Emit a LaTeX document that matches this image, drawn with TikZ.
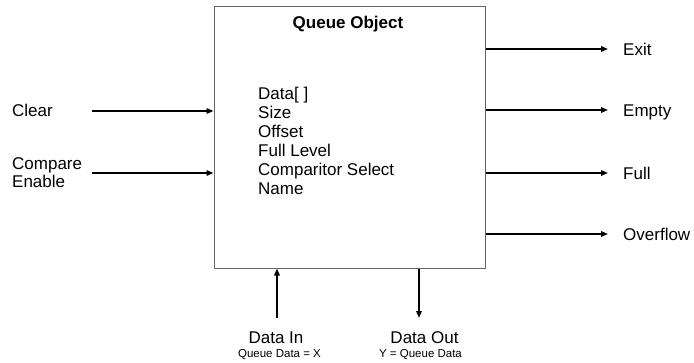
\documentclass[tikz,border=0pt]{standalone}
\usepackage{fontspec}
\setmainfont{Liberation Sans}
\usetikzlibrary{arrows.meta}
\tikzset{
  sig/.style={line width=1.6pt, -{Triangle[length=7pt,width=5.5pt]}},
  lbl/.style={inner sep=0pt, font=\fontsize{17}{19}\selectfont},
  sublbl/.style={inner sep=0pt, font=\fontsize{11.5}{13}\selectfont},
}
\begin{document}
\begin{tikzpicture}[x=1pt,y=-1pt]
  \useasboundingbox (0,0) rectangle (694,362);

  % le bloc de la file
  \node[draw=black!60, line width=1pt, minimum width=271pt, minimum height=262pt, inner sep=0pt] (queue) at (349.5,137) {};
  \node[lbl, font=\fontsize{17}{19}\selectfont\bfseries, anchor=base] (title) at (348,28) {Queue Object};

  % champs internes
  \foreach \f [count=\i] in {Data[ ],Size,Offset,Full Level,Comparitor Select,Name}
    \node[lbl, anchor=base west] (field\i) at (258,{99+19*(\i-1)}) {\f};

  % entrees a gauche
  \coordinate (clrin) at (92,111);
  \coordinate (cmpin) at (92,173);
  \draw[sig] (clrin) -- (clrin -| queue.west);
  \draw[sig] (cmpin) -- (cmpin -| queue.west);
  \node[lbl, anchor=base west] (clear) at (12,116) {Clear};
  \node[lbl, anchor=base west] (compare) at (12,169) {Compare};
  \node[lbl, anchor=base west] (enable) at (12,187) {Enable};

  % sorties a droite
  \foreach \name/\y [count=\i] in {Exit/49,Empty/110,Full/173,Overflow/234}{
    \coordinate (out\i) at (608,\y);
    \draw[sig] (out\i -| queue.east) -- (out\i);
    \node[lbl, anchor=base west] (outlbl\i) at (623,\y+6) {\name};
  }

  % donnees en bas
  \coordinate (din) at (277,318);
  \coordinate (dout) at (419,318);
  \draw[sig] (din) -- (din |- queue.south);
  \draw[sig] (dout |- queue.south) -- (dout);
  \node[lbl, anchor=base] (datain) at (276,343) {Data In};
  \node[sublbl, anchor=base] (datainsub) at (279.5,357.5) {Queue Data = X};
  \node[lbl, anchor=base] (dataout) at (424.5,343) {Data Out};
  \node[sublbl, anchor=base] (dataoutsub) at (420.5,357.5) {Y = Queue Data};
\end{tikzpicture}
\end{document}
